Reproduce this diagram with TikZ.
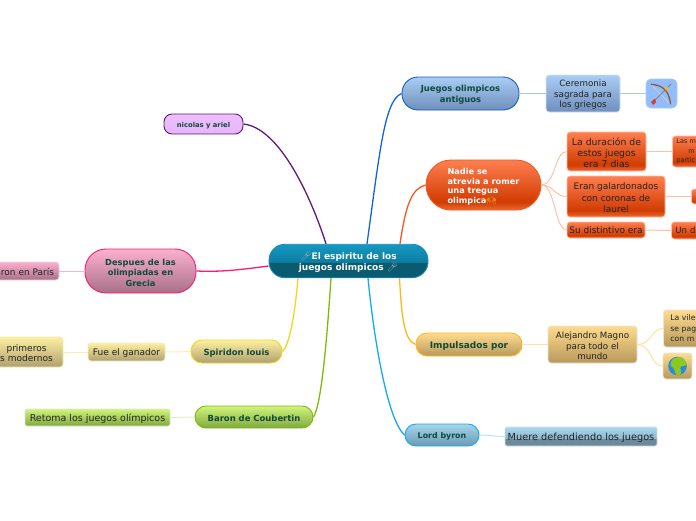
\documentclass[tikz,border=0pt]{standalone}
\usepackage{fontspec}
\setmainfont{DejaVu Sans}
\newfontfamily\emojifont{Noto Emoji}
\definecolor{topicgreen}{HTML}{0F4A3A}
\definecolor{leafink}{HTML}{222222}
\definecolor{centraltop}{HTML}{1499C2}
\definecolor{centralmid}{HTML}{0D7DA0}
\definecolor{centrallow}{HTML}{0A5A70}
\definecolor{orangetop}{HTML}{FF7F4F}
\definecolor{orangemid}{HTML}{D13C02}
\definecolor{orangelow}{HTML}{EE6A36}
\definecolor{skytop}{HTML}{A9D8EF}
\definecolor{skymid}{HTML}{8FB8CF}
\definecolor{skylow}{HTML}{6C8A9C}
\pgfdeclareverticalshading{centralshade}{100bp}{color(0bp)=(centrallow); color(48bp)=(centrallow); color(48.5bp)=(centralmid); color(75bp)=(centraltop); color(100bp)=(centraltop)}
\pgfdeclareverticalshading{orangeshade}{100bp}{color(0bp)=(orangelow); color(25bp)=(orangelow); color(33bp)=(orangemid); color(75bp)=(orangetop); color(100bp)=(orangetop)}
\pgfdeclareverticalshading{skyshade}{100bp}{color(0bp)=(skylow); color(44bp)=(skylow); color(46bp)=(skymid); color(75bp)=(skytop); color(100bp)=(skytop)}
\newcommand{\micicon}{{\emojifont\fontsize{9}{9}\selectfont\textcolor[HTML]{86A6B6}{🎤}}}
\newcommand{\handsicon}{{\emojifont\fontsize{8}{8}\selectfont\textcolor[HTML]{F8C020}{🙌}}}
\newcommand{\dn}{\rule{0pt}{9.2pt}}
\begin{document}
\begin{tikzpicture}[
  x=1pt, y=-1pt,
  topic/.style={
    draw,
    line width=0.9pt,
    inner sep=0pt,
    text=topicgreen,
    font=\bfseries\fontsize{8.5}{10.5}\selectfont
  },
  leaf/.style={
    draw,
    line width=0.8pt,
    rounded corners=3pt,
    inner sep=0pt,
    text=leafink,
    font=\fontsize{9}{10.6}\selectfont
  },
  main/.style={line width=1.3pt},
  twig/.style={line width=1pt},
  bluefill/.style={top color={rgb,255:red,169;green,205;blue,245}, bottom color={rgb,255:red,111;green,143;blue,188}},
  goldfill/.style={top color={rgb,255:red,254;green,219;blue,141}, bottom color={rgb,255:red,184;green,153;blue,92}},
  skyfill/.style={top color={rgb,255:red,165;green,213;blue,234}, bottom color={rgb,255:red,106;green,154;blue,181}},
  pinkfill/.style={top color={rgb,255:red,252;green,176;blue,208}, bottom color={rgb,255:red,168;green,112;blue,136}},
  yellowfill/.style={top color={rgb,255:red,253;green,240;blue,160}, bottom color={rgb,255:red,176;green,160;blue,112}},
  greenfill/.style={top color={rgb,255:red,208;green,245;blue,122}, bottom color={rgb,255:red,128;green,168;blue,64}},
  orangefill/.style={shade, shading=orangeshade}
]
\useasboundingbox (0,0) rectangle (696,520);

\node[draw={rgb,255:red,31;green,136;blue,192}, line width=0.9pt, rounded corners=16pt, shade, shading=centralshade, minimum width=159pt, minimum height=33.5pt, inner sep=0pt, align=center, text=white, font=\bfseries\fontsize{9}{11}\selectfont] (central) at (348.5,261) {\dn\micicon El espiritu de los\\juegos olimpicos \micicon};

\node[topic, bluefill, draw={rgb,255:red,21;green,96;blue,192}, rounded corners=16pt, minimum width=117pt, minimum height=33pt, align=center, font=\bfseries\fontsize{8.4}{10.6}\selectfont] (antiguos) at (460.5,93.5) {\dn Juegos olimpicos\\antiguos};
\node[leaf, bluefill, draw={rgb,255:red,214;green,226;blue,242}, minimum width=74pt, minimum height=37pt, align=center, font=\fontsize{8.7}{10.6}\selectfont] (ceremonia) at (583,93.5) {\dn Ceremonia\\sagrada para\\los griegos};
\node[draw={rgb,255:red,165;green,200;blue,250}, line width=0.8pt, fill={rgb,255:red,147;green,189;blue,248}, rounded corners=5pt, minimum width=31pt, minimum height=29pt, inner sep=0pt] (bowbox) at (661.5,93.5) {};

\node[topic, orangefill, draw={rgb,255:red,245;green,85;blue,30}, rounded corners=25pt, minimum width=115pt, minimum height=50pt, text=white, align=left, font=\bfseries\fontsize{8.2}{9.5}\selectfont] (nadie) at (483.5,185) {\dn Nadie se\\atrevia a romer\\una tregua\\olimpica\handsicon};
\node[leaf, orangefill, draw={rgb,255:red,255;green,190;blue,165}, minimum width=79pt, minimum height=39pt, align=center, font=\fontsize{9.3}{11}\selectfont] (duracion) at (606.5,151.5) {\dn La duración de\\estos juegos\\era 7 dias};
\node[leaf, orangefill, draw={rgb,255:red,255;green,190;blue,165}, minimum width=98pt, minimum height=41pt, align=center, font=\fontsize{9}{11.2}\selectfont] (eran) at (616,196.5) {\dn Eran galardonados\\con coronas de\\laurel};
\node[leaf, orangefill, draw={rgb,255:red,255;green,190;blue,165}, minimum width=78pt, minimum height=16pt] (distintivo) at (606,230) {Su distintivo era};
\node[leaf, orangefill, draw={rgb,255:red,255;green,190;blue,165}, minimum width=50pt, minimum height=31pt, anchor=west, text width=42pt, align=left, font=\fontsize{6.5}{9.5}\selectfont] (lasm) at (672,151.5) {Las m\\\hspace*{12pt}m\\partic};
\node[leaf, orangefill, draw={rgb,255:red,255;green,190;blue,165}, minimum width=30pt, minimum height=15pt, anchor=west] (corona) at (691,196.5) {};
\node[leaf, orangefill, draw={rgb,255:red,255;green,190;blue,165}, minimum width=50pt, minimum height=17pt, anchor=west, text width=42pt, align=left, font=\fontsize{8.6}{11}\selectfont] (und) at (671,230.5) {Un d};

\node[topic, goldfill, draw={rgb,255:red,255;green,184;blue,24}, rounded corners=11pt, minimum width=106pt, minimum height=23pt, font=\bfseries\fontsize{9}{11}\selectfont] (impulsados) at (469,344.5) {\dn Impulsados por};
\node[leaf, goldfill, draw={rgb,255:red,235;green,228;blue,212}, minimum width=89pt, minimum height=37pt, align=center, font=\fontsize{8.7}{10.5}\selectfont] (alejandro) at (592.5,344.5) {\dn Alejandro Magno\\para todo el\\mundo};
\node[leaf, goldfill, draw={rgb,255:red,235;green,228;blue,212}, minimum width=50pt, minimum height=37pt, anchor=west, text width=36pt, align=left, font=\fontsize{7.7}{10.6}\selectfont] (vile) at (663,328.5) {La vile\\se pag\\con m};
\node[leaf, goldfill, draw={rgb,255:red,235;green,228;blue,212}, minimum width=29pt, minimum height=26pt] (globebox) at (677.5,366) {};

\node[topic, skyfill, draw={rgb,255:red,20;green,169;blue,243}, rounded corners=11pt, minimum width=74pt, minimum height=22pt, font=\bfseries\fontsize{7.9}{10}\selectfont] (byron) at (442,435) {\dn Lord byron};
\node[leaf, shade, shading=skyshade, draw={rgb,255:red,215;green,222;blue,226}, rounded corners=2pt, minimum width=152pt, minimum height=19pt, font=\fontsize{9.75}{11}\selectfont] (muere) at (581,436.5) {\dn Muere defendiendo los juegos};

\node[topic, top color={rgb,255:red,237;green,190;blue,255}, bottom color={rgb,255:red,232;green,180;blue,250}, draw={rgb,255:red,94;green,26;blue,120}, rounded corners=8pt, minimum width=79pt, minimum height=20pt, font=\bfseries\fontsize{6.8}{9}\selectfont] (nicolas) at (203.5,124) {\dn nicolas y ariel};

\node[topic, pinkfill, draw={rgb,255:red,250;green,26;blue,112}, rounded corners=21pt, minimum width=111pt, minimum height=44pt, align=center, font=\bfseries\fontsize{8.3}{10.5}\selectfont] (despues) at (140.5,271) {\dn Despues de las\\olimpiadas en\\Grecia};
\node[leaf, pinkfill, draw={rgb,255:red,235;green,215;blue,224}, minimum width=63pt, minimum height=18pt] (paris) at (27.5,271) {\dn ron en París};

\node[topic, yellowfill, draw={rgb,255:red,240;green,216;blue,32}, rounded corners=11pt, minimum width=91pt, minimum height=23pt] (spiridon) at (236.5,351.5) {\dn Spiridon louis};
\node[leaf, yellowfill, draw={rgb,255:red,240;green,236;blue,200}, minimum width=77pt, minimum height=18pt] (ganador) at (126.5,352) {\dn Fue el ganador};
\node[leaf, yellowfill, draw={rgb,255:red,240;green,236;blue,170}, minimum width=73pt, minimum height=30pt, align=center] (primeros) at (26.5,352) {\dn primeros\\s modernos};

\node[topic, greenfill, draw={rgb,255:red,128;green,184;blue,16}, rounded corners=11pt, minimum width=118pt, minimum height=22pt, font=\bfseries\fontsize{8.45}{10}\selectfont] (baron) at (254,417) {\dn Baron de Coubertin};
\node[leaf, greenfill, draw={rgb,255:red,220;green,232;blue,200}, rounded corners=2pt, minimum width=145pt, minimum height=17pt, font=\fontsize{9.5}{11}\selectfont] (retoma) at (97.5,417.5) {\dn Retoma los juegos olímpicos};

\draw[main, draw={rgb,255:red,21;green,100;blue,215}] ([xshift=18.5pt]central.north) .. controls +(13,-94) and +(-17,7) .. (antiguos.west);
\draw[main, draw={rgb,255:red,245;green,85;blue,30}] ([xshift=51.5pt]central.north) .. controls +(6,-40) and +(-14,4) .. (nadie.west);
\draw[main, draw={rgb,255:red,94;green,26;blue,120}] ([xshift=-22.5pt]central.north) .. controls +(-14,-44) and +(37,4) .. (nicolas.east);
\draw[main, draw={rgb,255:red,250;green,26;blue,112}] ([yshift=-5pt]central.west) .. controls +(-30,4) and +(25,1) .. (despues.east);
\draw[main, draw={rgb,255:red,240;green,216;blue,32}] ([xshift=-50.5pt]central.south) .. controls +(-4,45) and +(6,-6) .. (spiridon.east);
\draw[main, draw={rgb,255:red,128;green,184;blue,16}] ([xshift=-17.5pt]central.south) .. controls +(-4,60) and +(8,-12) .. (baron.east);
\draw[main, draw={rgb,255:red,255;green,184;blue,24}] ([xshift=51pt]central.south) .. controls +(2,35) and +(-12,-4) .. (impulsados.west);
\draw[main, draw={rgb,255:red,20;green,169;blue,243}] ([xshift=19.5pt]central.south) .. controls +(6,62) and +(-17,-15) .. (byron.west);

\draw[twig, draw={rgb,255:red,166;green,200;blue,245}] (antiguos) -- (ceremonia);
\draw[twig, draw={rgb,255:red,166;green,200;blue,245}] (ceremonia) -- (bowbox);
\draw[twig, draw={rgb,255:red,255;green,192;blue,168}] (nadie.east) .. controls +(14,0) and +(-12,0) .. (duracion.west);
\draw[twig, draw={rgb,255:red,255;green,192;blue,168}] (nadie.east) .. controls +(12,0) and +(-12,0) .. (eran.west);
\draw[twig, draw={rgb,255:red,255;green,192;blue,168}] (nadie.east) .. controls +(14,0) and +(-12,0) .. (distintivo.west);
\draw[twig, draw={rgb,255:red,255;green,192;blue,168}] (duracion.east) -- (lasm.west);
\draw[twig, draw={rgb,255:red,255;green,192;blue,168}] (eran.east) -- (corona.west);
\draw[twig, draw={rgb,255:red,255;green,192;blue,168}] (distintivo.east) -- (und.west);
\draw[twig, draw={rgb,255:red,255;green,226;blue,160}] (impulsados) -- (alejandro);
\draw[twig, draw={rgb,255:red,255;green,226;blue,160}] (alejandro.east) .. controls +(14,0) and +(-12,0) .. (vile.west);
\draw[twig, draw={rgb,255:red,255;green,226;blue,160}] (alejandro.east) .. controls +(14,0) and +(-12,0) .. (globebox.west);
\draw[twig, draw={rgb,255:red,184;green,228;blue,248}] (byron.east) .. controls +(10,0) and +(-10,0) .. (muere.west);
\draw[twig, draw={rgb,255:red,255;green,176;blue,208}] (despues) -- (paris);
\draw[twig, draw={rgb,255:red,248;green,240;blue,176}] (spiridon) -- (ganador);
\draw[twig, draw={rgb,255:red,248;green,240;blue,176}] (ganador) -- (primeros);
\draw[twig, draw={rgb,255:red,224;green,240;blue,192}] (baron) -- (retoma);

\draw[line width=0.5pt, draw={rgb,255:red,225;green,215;blue,205}] (651,84.5) -- (670,104);
\draw[line width=0.7pt, draw={rgb,255:red,125;green,125;blue,120}] (653,102) -- (671,84);
\fill[fill={rgb,255:red,215;green,60;blue,50}] (651,102) -- (655,98.5) -- (656,102) -- (653,105) -- cycle;
\draw[line width=1.3pt, draw={rgb,255:red,140;green,90;blue,65}] (651,84.3) .. controls (660,85) and (669,88) .. (670.5,104.3);
\fill[fill={rgb,255:red,240;green,185;blue,50}] (664.5,86) -- (668,87.5) -- (667.5,91) -- (664.5,89) -- cycle;

\fill[fill={rgb,255:red,38;green,140;blue,225}] (globebox.center) circle (9.3);
\begin{scope}
\clip (globebox.center) circle (9.3);
\fill[fill={rgb,255:red,140;green,200;blue,32}] (675,358) .. controls (680,355) and (688,358) .. (688,364) .. controls (684,367) and (681,365) .. (680,368) .. controls (683,372) and (680,377) .. (677,376) .. controls (674,372) and (675,368) .. (672,367) .. controls (669,365) and (671,359) .. (675,358) -- cycle;
\end{scope}
\end{tikzpicture}
\end{document}
